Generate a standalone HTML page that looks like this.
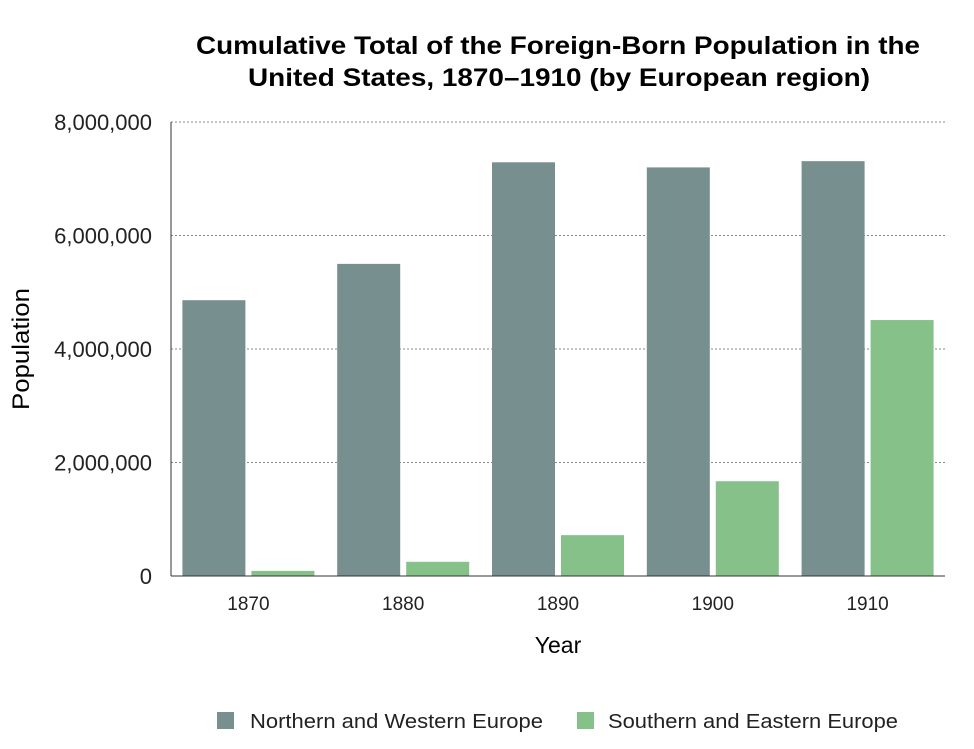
<!DOCTYPE html>
<html><head><meta charset="utf-8"><style>
body{margin:0;background:#fff;font-family:"Liberation Sans",sans-serif;}
</style></head><body>
<svg id="chart" width="974" height="744" xmlns="http://www.w3.org/2000/svg">
<text x="558" y="54" text-anchor="middle" font-size="25" font-weight="bold" textLength="724" lengthAdjust="spacingAndGlyphs">Cumulative Total of the Foreign-Born Population in the</text>
<text x="559" y="86" text-anchor="middle" font-size="25" font-weight="bold" textLength="622" lengthAdjust="spacingAndGlyphs">United States, 1870–1910 (by European region)</text>
<g id="grid"></g><g id="bars"></g><g id="axes"></g>
<text x="29" y="349" text-anchor="middle" font-size="24" textLength="122" lengthAdjust="spacingAndGlyphs" transform="rotate(-90 29 349)">Population</text>
<text x="558" y="653" text-anchor="middle" font-size="23">Year</text>
<g>
<rect x="217" y="712" width="17" height="17" fill="#778f8f"/>
<text x="250" y="728" font-size="20" fill="#222" textLength="293" lengthAdjust="spacingAndGlyphs">Northern and Western Europe</text>
<rect x="577" y="712" width="17" height="17" fill="#86c189"/>
<text x="608" y="728" font-size="20" fill="#222" textLength="290" lengthAdjust="spacingAndGlyphs">Southern and Eastern Europe</text>
</g>
</svg>
<script>
const categories=["1870","1880","1890","1900","1910"];
const northValues=[4860000,5500000,7290000,7200000,7310000];
const southValues=[90000,250000,720000,1670000,4510000];
const yTicks=[0,2000000,4000000,6000000,8000000];
const yTickLabels=["0","2,000,000","4,000,000","6,000,000","8,000,000"];
const NS="http://www.w3.org/2000/svg";
const x0=171,x1=945,yBase=576,yTop=122,yMax=8000000;
const y=v=>yBase-(v/yMax)*(yBase-yTop);
const groupW=(x1-x0)/categories.length;
const xg=i=>x0+i*groupW;
function mk(tag,attrs,parent){const e=document.createElementNS(NS,tag);for(const k in attrs)e.setAttribute(k,attrs[k]);parent.appendChild(e);return e;}
const grid=document.getElementById('grid'),bars=document.getElementById('bars'),axes=document.getElementById('axes');
yTicks.forEach((t,i)=>{
 if(t>0){const l=mk('line',{x1:x0,x2:x1,y1:y(t),y2:y(t),stroke:'#888','stroke-dasharray':'2,2','stroke-width':1},grid);
 
 }
 const tx=mk('text',{x:152,y:y(t)+8,'text-anchor':'end','font-size':22,fill:'#222'},axes);
 tx.textContent=yTickLabels[i];
 
 
});
categories.forEach((c,i)=>{
 const bw=63,gap=6,left=xg(i)+(groupW-2*bw-gap)/2;
 const b1=mk('rect',{x:left,y:y(northValues[i]),width:bw,height:yBase-y(northValues[i]),fill:'#778f8f'},bars);
 
 
 const b2=mk('rect',{x:left+bw+gap,y:y(southValues[i]),width:bw,height:yBase-y(southValues[i]),fill:'#86c189'},bars);
 
 
 const t=mk('text',{x:xg(i)+groupW/2,y:610,'text-anchor':'middle','font-size':19,fill:'#222'},axes);
 t.textContent=c;
 
 
});
const ya=mk('line',{x1:x0,x2:x0,y1:yTop,y2:yBase,stroke:'#333','stroke-width':1},axes);


const xa=mk('line',{x1:x0,x2:x1,y1:yBase,y2:yBase,stroke:'#333','stroke-width':1},axes);


</script>
</body></html>
